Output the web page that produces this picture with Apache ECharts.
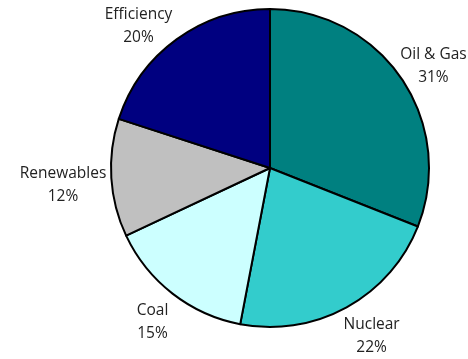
<!DOCTYPE html>
<html>
<head>
<meta charset="utf-8">
<script src="https://cdn.jsdelivr.net/npm/echarts@6/dist/echarts.min.js"></script>
<style>
  html, body { margin: 0; padding: 0; background: #fff; }
  #chart { width: 468px; height: 359px; }
</style>
</head>
<body>
<div id="chart"></div>
<script>
// Energy share by source
const categories = ['Oil & Gas', 'Nuclear', 'Coal', 'Renewables', 'Efficiency'];
const shares = [31, 22, 15, 12, 20];
const colors = ['#008080', '#33CCCC', '#CCFFFF', '#C0C0C0', '#000080'];

// distance beyond the rim of the label corner nearest the pie
const LABEL_GAP = 2;
// labels above the centre rest on their last baseline rather than the line box
const BASELINE_INSET = 7.5;
// small overall nudge applied to every label
const LABEL_NUDGE = [-3, 4];

const clamp1 = v => Math.max(-1, Math.min(1, v));

const chart = echarts.init(document.getElementById('chart'));
chart.setOption({
  animation: false,
  series: [{
    type: 'pie',
    center: [270, 168],
    radius: 159,
    startAngle: 90,
    clockwise: true,
    bleedMargin: -200,
    data: categories.map((name, i) => ({
      name,
      value: shares[i],
      itemStyle: { color: colors[i] }
    })),
    itemStyle: { borderColor: '#000', borderWidth: 2 },
    label: {
      show: true,
      position: 'outside',
      formatter: p => p.name + '\n' + p.value + '%',
      fontFamily: 'Open Sans',
      fontSize: 15.5,
      lineHeight: 23,
      color: '#222',
      overflow: 'none'
    },
    labelLine: { show: false, length: 10, length2: 0 },
    // anchor the label's inner corner on the slice's mid ray, text centred
    labelLayout: p => {
      const pts = p.labelLinePoints;
      if (!pts) return {};
      const x0 = pts[0][0], y0 = pts[0][1];
      let ux = pts[1][0] - x0, uy = pts[1][1] - y0;
      const len = Math.hypot(ux, uy) || 1;
      ux /= len; uy /= len;
      const w = p.labelRect.width, h = p.labelRect.height;
      const ax = x0 + ux * LABEL_GAP, ay = y0 + uy * LABEL_GAP;
      const halfH = uy > 0 ? h / 2 : h / 2 - BASELINE_INSET;
      return {
        x: ax + clamp1(2 * ux) * w / 2 + LABEL_NUDGE[0],
        y: ay + clamp1(2 * uy) * halfH + LABEL_NUDGE[1],
        align: 'center',
        verticalAlign: 'middle'
      };
    },
    emphasis: { disabled: true }
  }]
});
</script>
</body>
</html>
